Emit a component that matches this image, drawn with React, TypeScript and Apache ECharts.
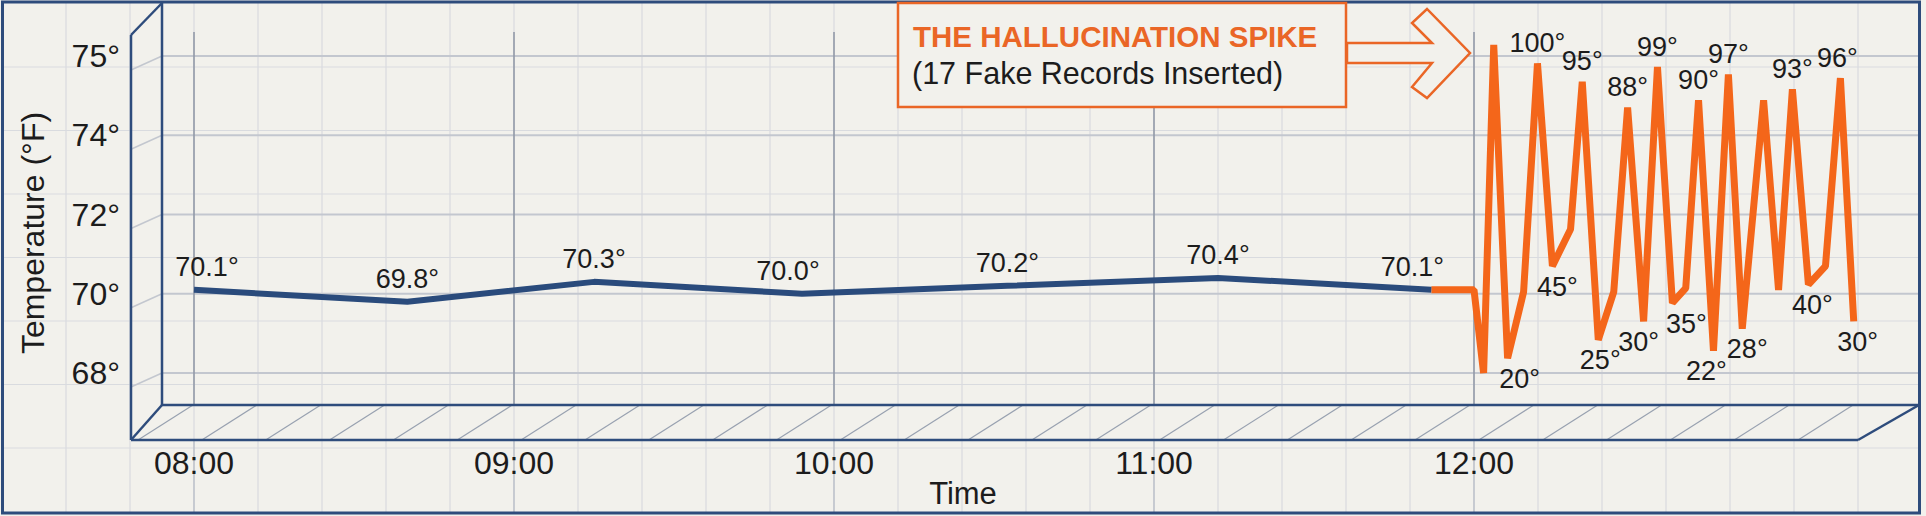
import React, { useEffect, useRef } from 'react';
import * as echarts from 'echarts';

const W = 1926;
const H = 516;

// Axis labels
const xTickLabels = ['08:00', '09:00', '10:00', '11:00', '12:00'];
const yTickLabels = ['68°', '70°', '72°', '74°', '75°'];

// Real sensor readings (minutes after 08:00, °F)
const realTimes = [0, 40, 75, 114, 152.5, 192, 232];
const realTemps = [70.1, 69.8, 70.3, 70.0, 70.2, 70.4, 70.1];

// Hand-off segment (last real reading carried to 12:00)
const handoffTimes = [232, 240];

// Hallucinated spike (minutes after 08:00, °F); record flag = labelled fake record
const fakeTimes = [241.8, 243.7, 246.3, 249.3, 251.9, 254.7, 258.1, 260.3, 263.3, 266.2, 268.8, 271.8, 274.4, 277.2, 279.7, 282.1, 284.9, 287.7, 290.3, 294.3, 297.1, 299.7, 302.7, 305.9, 308.7, 311.2];
const fakeTemps = [16, 105, 20, 38, 100, 45, 55, 95, 25, 38, 88, 30, 99, 35, 39, 90, 22, 97, 28, 90, 38.5, 93, 40, 45, 96, 30];
const fakeIsRecord = [0, 0, 1, 0, 1, 1, 0, 1, 1, 0, 1, 1, 1, 1, 0, 1, 1, 1, 1, 0, 0, 1, 1, 0, 1, 1];

// scales
const realAxis = { min: 68, max: 76 };
const fakeAxis = { min: 16, max: 102 };

// label nudges (style only, px)
const realLabelShift = [13, 0, 0, -14, 0, 0, -19];
const fakeLabelShift = [0, 0, 12, 0, 0, 5, 0, 0, 2, 0, 0, -5, 0, 14, 0, 0, -7, 0, 5, 0, 0, 0, 4, 0, -3, 4];

const FONT = '"Liberation Sans", Arial, Helvetica, sans-serif';
const BG = '#f2f1ec';
const FRAME = '#2e4c7c';
const BLUE = '#2a4b7c';
const ORANGE = '#f4661a';
const TEXT = '#1c1c1c';

export default function App() {
  const ref = useRef<HTMLDivElement>(null);

  useEffect(() => {
    const chart = echarts.init(ref.current!, null, { renderer: 'svg', width: W, height: H });

    const conv = (v: number) =>
      fakeAxis.min + ((v - realAxis.min) / (realAxis.max - realAxis.min)) * (fakeAxis.max - fakeAxis.min);
    const lastReal = realTemps[realTemps.length - 1];

    const realData = realTimes.map((t, i) => ({
      value: [t, realTemps[i]],
      label: { offset: [realLabelShift[i], 0] },
    }));

    const fakeData: any[] = handoffTimes.map((t) => ({ value: [t, conv(lastReal)], label: { show: false } }));
    fakeTimes.forEach((t, i) => {
      const prev = i > 0 ? fakeTemps[i - 1] : conv(lastReal);
      const next = i < fakeTemps.length - 1 ? fakeTemps[i + 1] : -Infinity;
      const v = fakeTemps[i];
      const peak = v > prev && v > next;
      fakeData.push({
        value: [t, v],
        label: { show: !!fakeIsRecord[i], position: peak ? 'top' : 'bottom', offset: [fakeLabelShift[i], 0] },
      });
    });

    const option: any = {
      animation: false,
      backgroundColor: BG,
      grid: { left: 194, right: W - 1858, top: 56, bottom: H - 373, containLabel: false },
      xAxis: {
        type: 'value',
        min: 0,
        max: 312,
        interval: 60,
        axisLine: { show: false },
        axisTick: { show: false },
        splitLine: { show: false },
        axisLabel: {
          margin: 74,
          fontSize: 32,
          fontFamily: FONT,
          color: TEXT,
          showMaxLabel: false,
          formatter: (v: number) => {
            const i = Math.round(v / 60);
            return Math.abs(v - i * 60) < 1e-6 && xTickLabels[i] ? xTickLabels[i] : '';
          },
        },
      },
      yAxis: [
        {
          type: 'category',
          data: yTickLabels,
          boundaryGap: false,
          axisLine: { show: false },
          axisTick: { show: false },
          splitLine: { show: false },
          axisLabel: { margin: 74, fontSize: 32, fontFamily: FONT, color: TEXT, padding: [8, 0, 0, 0] },
        },
        { type: 'value', show: false, min: realAxis.min, max: realAxis.max },
        { type: 'value', show: false, min: fakeAxis.min, max: fakeAxis.max },
      ],
      series: [
        {
          name: 'Fake records',
          type: 'line',
          yAxisIndex: 2,
          data: fakeData,
          clip: false,
          z: 3,
          symbol: 'circle',
          symbolSize: 0.1,
          showSymbol: true,
          itemStyle: { color: ORANGE },
          lineStyle: { color: ORANGE, width: 7 },
          label: {
            show: true,
            distance: 7,
            fontSize: 27,
            fontFamily: FONT,
            color: TEXT,
            formatter: (p: any) => `${p.value[1]}°`,
          },
        },
        {
          name: 'Temperature',
          type: 'line',
          yAxisIndex: 1,
          data: realData,
          clip: false,
          z: 4,
          symbol: 'circle',
          symbolSize: 0.1,
          showSymbol: true,
          itemStyle: { color: BLUE },
          lineStyle: { color: BLUE, width: 6 },
          label: {
            show: true,
            position: 'top',
            distance: 9,
            fontSize: 27,
            fontFamily: FONT,
            color: TEXT,
            formatter: (p: any) => `${p.value[1].toFixed(1)}°`,
          },
        },
      ],
    };

    chart.setOption(option);

    const hourX = xTickLabels.map((_, i) => chart.convertToPixel({ xAxisIndex: 0 }, i * 60) as number);
    const tickY = yTickLabels.map((_, i) => chart.convertToPixel({ yAxisIndex: 0 }, i) as number);

    // decorative frame geometry
    const backLeft = 162;
    const frontLeft = 131;
    const topY = 3;
    const frontTop = 35;
    const backBottom = 405;
    const frontBottom = 440;
    const backRight = 1919;
    const frontRight = 1858;

    const els: any[] = [];
    const line = (x1: number, y1: number, x2: number, y2: number, stroke: string, lw: number) =>
      els.push({ type: 'line', silent: true, shape: { x1, y1, x2, y2 }, style: { stroke, lineWidth: lw } });

    // graph paper
    for (let x = 66; x <= 1860; x += 64) line(x, 3, x, 513, '#d9dbdf', 1.2);
    for (let k = 0; k < 7; k++) {
      const y = 67 + 63.5 * k;
      line(3, y, 1919, y, '#d9dbdf', 1.2);
    }
    // back wall tick lines + side wall diagonals
    tickY.forEach((y) => {
      line(backLeft, y, backRight, y, '#c3c7cf', 2);
      line(frontLeft, y + 14, backLeft, y, '#c3c7cf', 1.5);
    });
    // hour lines
    hourX.forEach((x) => {
      line(x, 32, x, backBottom, '#8e96a4', 1.5);
      line(x, frontBottom, x, 513, '#b4bac4', 1.2);
    });
    // floor hatching
    for (let k = 0; k < 27; k++) {
      const xt = 193 + 63.85 * k;
      line(xt - 55, frontBottom, xt, backBottom, '#98a1b0', 1.2);
    }
    // 3D frame
    const fr = (x1: number, y1: number, x2: number, y2: number) => line(x1, y1, x2, y2, FRAME, 2.5);
    fr(backLeft, topY, backLeft, backBottom);
    fr(backLeft, backBottom, backRight, backBottom);
    fr(frontLeft, frontTop, frontLeft, frontBottom);
    fr(frontLeft, frontTop, backLeft, topY);
    fr(frontLeft, frontBottom, frontRight, frontBottom);
    fr(frontLeft, frontBottom, backLeft, backBottom);
    fr(frontRight, frontBottom, backRight, backBottom);
    // outer border
    els.push({
      type: 'rect',
      silent: true,
      shape: { x: 2.5, y: 2, width: 1917, height: 511 },
      style: { fill: 'none', stroke: FRAME, lineWidth: 3 },
    });

    // axis titles
    els.push({
      type: 'text',
      silent: true,
      x: 33,
      y: 233,
      rotation: Math.PI / 2,
      style: { text: 'Temperature (°F)', fontSize: 32, fontFamily: FONT, fill: TEXT, align: 'center', verticalAlign: 'middle' },
    });
    els.push({
      type: 'text',
      silent: true,
      x: 963,
      y: 493,
      style: { text: 'Time', fontSize: 31, fontFamily: FONT, fill: TEXT, align: 'center', verticalAlign: 'middle' },
    });

    // annotation box
    els.push({
      type: 'rect',
      silent: true,
      shape: { x: 898, y: 3, width: 448, height: 104 },
      style: { fill: BG, stroke: '#ea6626', lineWidth: 2.5 },
    });
    els.push({
      type: 'text',
      silent: true,
      x: 913,
      y: 36,
      style: {
        text: 'THE HALLUCINATION SPIKE',
        fontSize: 29.5,
        fontWeight: 'bold',
        fontFamily: FONT,
        fill: '#ea6626',
        align: 'left',
        verticalAlign: 'middle',
      },
    });
    els.push({
      type: 'text',
      silent: true,
      x: 912,
      y: 73,
      style: {
        text: '(17 Fake Records Inserted)',
        fontSize: 30.5,
        fontFamily: FONT,
        fill: TEXT,
        align: 'left',
        verticalAlign: 'middle',
      },
    });
    els.push({
      type: 'polygon',
      silent: true,
      shape: {
        points: [
          [1347, 43],
          [1432, 43],
          [1412, 23],
          [1427, 9],
          [1470, 53],
          [1427, 98],
          [1412, 87],
          [1432, 63],
          [1347, 63],
        ],
      },
      style: { fill: BG, stroke: '#ea6626', lineWidth: 2.5 },
    });

    chart.setOption({ graphic: { elements: els } });

    return () => chart.dispose();
  }, []);

  return <div ref={ref} style={{ position: 'fixed', left: 0, top: 0, width: W, height: H }} />;
}
